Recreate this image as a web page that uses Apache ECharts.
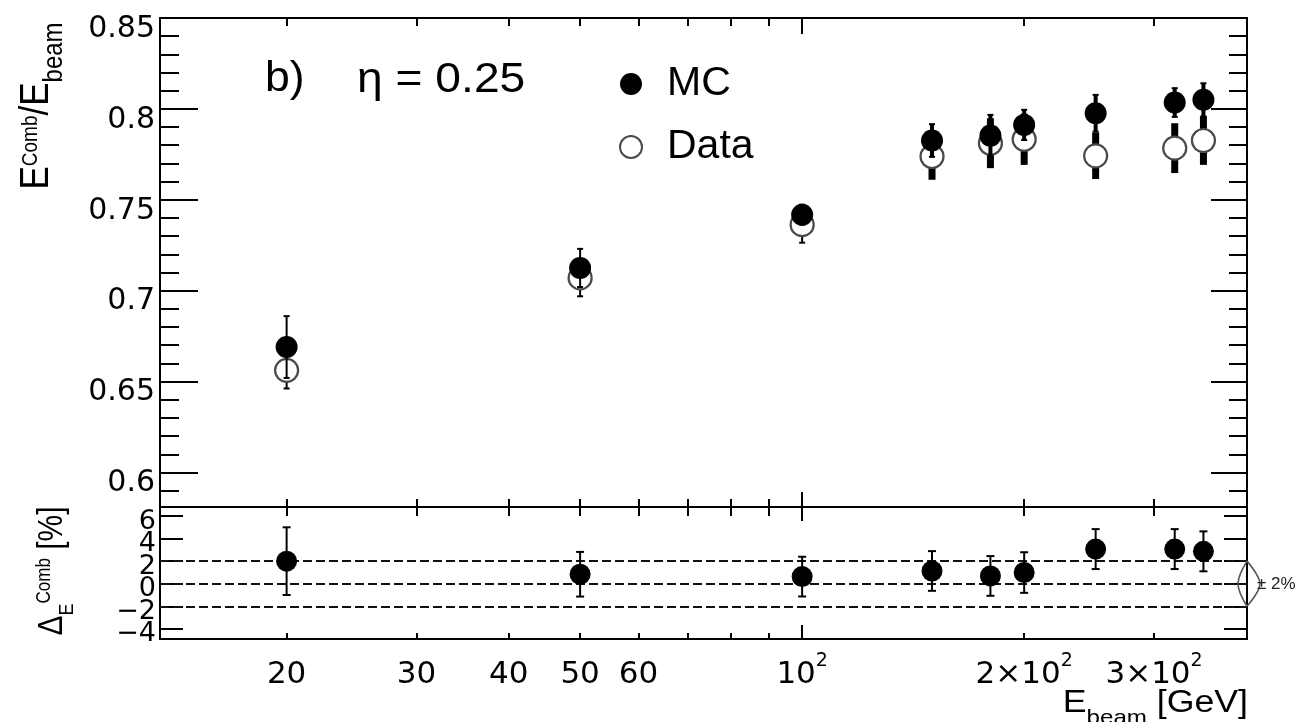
<!DOCTYPE html>
<html>
<head>
<meta charset="utf-8">
<script src="https://cdn.jsdelivr.net/npm/echarts@6/dist/echarts.min.js"></script>
<style>html,body{margin:0;padding:0;background:#fff}#c{width:1304px;height:722px}</style>
</head>
<body>
<div id="c"></div>
<script>
// ---------------- data ----------------
const energies      = [20, 50, 100, 150, 180, 200, 250, 320, 350];
const mcResponse    = [0.669, 0.7125, 0.7418, 0.7826, 0.7853, 0.7912, 0.7976, 0.8035, 0.805];
const mcError       = [0.017, 0.0105, 0.0055, 0.009, 0.0114, 0.0083, 0.0101, 0.0079, 0.0091];
const dataResponse  = [0.6562, 0.707, 0.7363, 0.7738, 0.7811, 0.7833, 0.7742, 0.7784, 0.7826];
const dataError     = [0.0100, 0.0101, 0.0099, 0.0128, 0.0137, 0.0141, 0.0128, 0.0137, 0.0134];
const deltaPercent  = [2.0, 0.84, 0.63, 1.13, 0.69, 0.99, 3.07, 3.07, 2.87];
const deltaError    = [3.0, 1.98, 1.76, 1.76, 1.76, 1.8, 1.77, 1.77, 1.77];
const bandLimits    = [-2, 0, 2];
const bandLabel     = '± 2%';

const xTickValues   = [20, 30, 40, 50, 60, 100, 200, 300];
const xTickLabels   = ['20', '30', '40', '50', '60', '10{sup|2}', '2×10{sup|2}', '3×10{sup|2}'];
const xMinorTicks   = [20, 30, 40, 50, 60, 70, 80, 90, 200, 300];
const xMajorTicks   = [100];

const yTopMajor     = [0.6, 0.65, 0.7, 0.75, 0.8, 0.85];
const yTopLabels    = ['0.6', '0.65', '0.7', '0.75', '0.8', '0.85'];
const yTopMinor     = [0.59, 0.61, 0.62, 0.63, 0.64, 0.66, 0.67, 0.68, 0.69, 0.71, 0.72, 0.73, 0.74,
                       0.76, 0.77, 0.78, 0.79, 0.81, 0.82, 0.83, 0.84];
const yBotTicks     = [-4, -2, 0, 2, 4, 6];
const yBotLabels    = ['−4', '−2', '0', '2', '4', '6'];

const X_MIN = 13.47, X_MAX = 401;
const YT_MIN = 0.581, YT_MAX = 0.85;
const YB_MIN = -4.9, YB_MAX = 6.8;
const HEAVY_FROM = 150;

// ---------------- style helpers ----------------
const FA = '"Liberation Sans", Arial, Helvetica, sans-serif';
const FD = '"DejaVu Sans", "Liberation Sans", sans-serif';
const INK = '#000';

function lookup(vals, labels, wrap) {
  return function (v) {
    for (let i = 0; i < vals.length; i++) {
      if (Math.abs(vals[i] - v) < 1e-6 * Math.max(1, Math.abs(v))) {
        return wrap ? '{v|' + labels[i] + '}' : labels[i];
      }
    }
    return '';
  };
}

function xAx(grid, pos, ticks, len, withLabels) {
  return {
    type: 'log', logBase: 10, gridIndex: grid, position: pos, min: X_MIN, max: X_MAX,
    axisLine: { show: true, onZero: false, lineStyle: { color: '#000', width: 2 } },
    axisTick: { show: true, inside: true, length: len, customValues: ticks, lineStyle: { color: '#000', width: 2 } },
    axisLabel: withLabels ? {
      show: true, customValues: xTickValues, formatter: lookup(xTickValues, xTickLabels),
      showMinLabel: true, showMaxLabel: true,
      fontFamily: FD, fontSize: 31, color: INK, margin: 13, lineHeight: 46,
      rich: { sup: { fontFamily: FD, fontSize: 19, color: INK, verticalAlign: 'top' } }
    } : { show: false },
    splitLine: { show: false }, minorTick: { show: false }, minorSplitLine: { show: false }
  };
}

function yAx(grid, pos, ticks, len, min, max, labelCfg) {
  return {
    type: 'value', gridIndex: grid, position: pos, min: min, max: max,
    axisLine: { show: true, onZero: false, lineStyle: { color: '#000', width: 2 } },
    axisTick: { show: true, inside: true, length: len, customValues: ticks, lineStyle: { color: '#000', width: 2 } },
    axisLabel: labelCfg || { show: false },
    splitLine: { show: false }, minorTick: { show: false }, minorSplitLine: { show: false }
  };
}

function yLabelCfg(values, size, margin, shift) {
  return {
    show: true, customValues: values, formatter: lookup(yBotTicks.concat(yTopMajor), yBotLabels.concat(yTopLabels), true),
    showMinLabel: true, showMaxLabel: true, hideOverlap: false,
    fontFamily: FD, fontSize: size, color: INK, margin: margin,
    rich: { v: { fontFamily: FD, fontSize: size, color: INK, padding: [shift, 0, 0, 0] } }
  };
}

function seg(x1, y1, x2, y2, w, c) {
  return { type: 'line', shape: { x1: x1, y1: y1, x2: x2, y2: y2 }, style: { stroke: c || '#000', lineWidth: w, lineCap: 'butt' } };
}

const DATA_SYM = 23, MC_SYM = 22, DELTA_SYM = 21;

function dataErrItem(params, api) {
  const e = api.value(0);
  const c = api.coord([e, api.value(1)]);
  const lo = api.coord([e, api.value(2)]);
  const hi = api.coord([e, api.value(3)]);
  const heavy = e >= HEAVY_FROM;
  const w = heavy ? 7 : 2;
  const r = DATA_SYM / 2;
  const ch = [];
  if (hi[1] < c[1] - r) ch.push(seg(c[0], c[1] - r, c[0], hi[1], w));
  if (lo[1] > c[1] + r) ch.push(seg(c[0], c[1] + r, c[0], lo[1], w));
  if (!heavy) {
    ch.push(seg(c[0] - 3, hi[1], c[0] + 3, hi[1], 2));
    ch.push(seg(c[0] - 3, lo[1], c[0] + 3, lo[1], 2));
  }
  return { type: 'group', children: ch };
}

function mcErrItem(params, api) {
  const e = api.value(0);
  const lo = api.coord([e, api.value(2)]);
  const hi = api.coord([e, api.value(3)]);
  const w = e >= HEAVY_FROM ? 4 : 2;
  return { type: 'group', children: [
    seg(hi[0], hi[1], lo[0], lo[1], w),
    seg(hi[0] - 3, hi[1], hi[0] + 3, hi[1], 2),
    seg(lo[0] - 3, lo[1], lo[0] + 3, lo[1], 2)
  ] };
}

function deltaErrItem(params, api) {
  const e = api.value(0);
  const lo = api.coord([e, api.value(2)]);
  const hi = api.coord([e, api.value(3)]);
  return { type: 'group', children: [
    seg(hi[0], hi[1], lo[0], lo[1], 2),
    seg(hi[0] - 4, hi[1], hi[0] + 4, hi[1], 2),
    seg(lo[0] - 4, lo[1], lo[0] + 4, lo[1], 2)
  ] };
}

function bandItem(params, api) {
  const cs = params.coordSys;
  const xr = cs.x + cs.width;
  const yLo = api.coord([api.value(0), api.value(1)])[1];
  const yHi = api.coord([api.value(0), api.value(2)])[1];
  const yMid = (yLo + yHi) / 2;
  const st = { stroke: '#555', lineWidth: 1.6, fill: null };
  return { type: 'group', children: [
    { type: 'polyline', shape: { points: [[xr, yHi], [xr - 9, yMid], [xr, yLo]], smooth: 0.35 }, style: st },
    { type: 'polyline', shape: { points: [[xr, yHi], [xr + 13, yMid], [xr, yLo]], smooth: 0.35 }, style: st },
    { type: 'text', style: { text: bandLabel, x: xr + 10, y: yMid + 1, verticalAlign: 'middle', align: 'left',
        fontFamily: FA, fontSize: 17, fill: '#222' } }
  ] };
}

const option = {
  animation: false,
  backgroundColor: '#fff',
  textStyle: { fontFamily: FA },
  grid: [
    { left: 160, top: 18, width: 1087, height: 489 },
    { left: 160, top: 507, width: 1087, height: 132 }
  ],
  legend: {
    orient: 'vertical', left: 614, top: 58, itemWidth: 22, itemHeight: 22, itemGap: 21,
    selectedMode: false,
    data: ['MC', 'Data'],
    textStyle: { fontFamily: FA, fontSize: 41, color: INK, lineHeight: 42, padding: [0, 0, 0, 20] }
  },
  xAxis: [
    xAx(0, 'bottom', xMinorTicks, 8),
    xAx(0, 'bottom', xMajorTicks, 15),
    xAx(0, 'top', xMinorTicks, 8),
    xAx(0, 'top', xMajorTicks, 16),
    xAx(1, 'bottom', xMinorTicks, 6, true),
    xAx(1, 'bottom', xMajorTicks, 14),
    xAx(1, 'top', xMinorTicks, 9),
    xAx(1, 'top', xMajorTicks, 14)
  ],
  yAxis: [
    yAx(0, 'left', yTopMajor, 38, YT_MIN, YT_MAX, yLabelCfg(yTopMajor, 30, 5, 22)),
    yAx(0, 'left', yTopMinor, 19, YT_MIN, YT_MAX),
    yAx(0, 'right', yTopMajor, 36, YT_MIN, YT_MAX),
    yAx(0, 'right', yTopMinor, 18, YT_MIN, YT_MAX),
    yAx(1, 'left', yBotTicks, 23, YB_MIN, YB_MAX, yLabelCfg([-4, 0, 4], 27, 4, 11)),
    yAx(1, 'right', yBotTicks, 23, YB_MIN, YB_MAX),
    yAx(1, 'left', yBotTicks, 23, YB_MIN, YB_MAX, yLabelCfg([-2, 2, 6], 27, 4, 11))
  ],
  series: [
    {
      type: 'custom', name: 'Data errors', xAxisIndex: 0, yAxisIndex: 0, z: 2, silent: true,
      renderItem: dataErrItem, encode: { x: 0, y: 1 },
      data: energies.map((e, i) => [e, dataResponse[i], dataResponse[i] - dataError[i], dataResponse[i] + dataError[i]])
    },
    {
      type: 'scatter', name: 'Data', xAxisIndex: 0, yAxisIndex: 0, z: 3, silent: true,
      symbol: 'circle', symbolSize: DATA_SYM,
      itemStyle: { color: 'rgba(0,0,0,0)', borderColor: '#4a4a4a', borderWidth: 2.2, opacity: 1 },
      emphasis: { disabled: true },
      data: energies.map((e, i) => [e, dataResponse[i]])
    },
    {
      type: 'custom', name: 'MC errors', xAxisIndex: 0, yAxisIndex: 0, z: 4, silent: true,
      renderItem: mcErrItem, encode: { x: 0, y: 1 },
      data: energies.map((e, i) => [e, mcResponse[i], mcResponse[i] - mcError[i], mcResponse[i] + mcError[i]])
    },
    {
      type: 'scatter', name: 'MC', xAxisIndex: 0, yAxisIndex: 0, z: 5, silent: true,
      symbol: 'circle', symbolSize: MC_SYM, itemStyle: { color: '#000', opacity: 1 },
      emphasis: { disabled: true },
      data: energies.map((e, i) => [e, mcResponse[i]])
    },
    {
      type: 'custom', name: 'Delta errors', xAxisIndex: 4, yAxisIndex: 4, z: 3, silent: true,
      renderItem: deltaErrItem, encode: { x: 0, y: 1 },
      data: energies.map((e, i) => [e, deltaPercent[i], deltaPercent[i] - deltaError[i], deltaPercent[i] + deltaError[i]]),
      markLine: {
        silent: true, z: 1, symbol: ['none', 'none'], label: { show: false },
        lineStyle: { type: [9, 4], color: '#111', width: 2, opacity: 1 },
        emphasis: { disabled: true },
        data: bandLimits.map(v => ({ yAxis: v }))
      }
    },
    {
      type: 'scatter', name: 'Delta', xAxisIndex: 4, yAxisIndex: 4, z: 4, silent: true,
      symbol: 'circle', symbolSize: DELTA_SYM, itemStyle: { color: '#000', opacity: 1 },
      emphasis: { disabled: true },
      data: energies.map((e, i) => [e, deltaPercent[i]])
    },
    {
      type: 'custom', name: 'Band', xAxisIndex: 4, yAxisIndex: 4, z: 4, silent: true, clip: false,
      renderItem: bandItem,
      data: [[X_MAX, bandLimits[0], bandLimits[2]]]
    }
  ],
  graphic: [
    { type: 'text', x: 265, y: 79, scaleX: 1.06, silent: true,
      style: { text: 'b)', fontFamily: FA, fontSize: 42, fill: INK, verticalAlign: 'middle', align: 'left' } },
    { type: 'text', x: 357, y: 80, scaleX: 1.1, silent: true,
      style: { text: 'η = 0.25', fontFamily: FA, fontSize: 42, fill: INK, verticalAlign: 'middle', align: 'left' } },
    { type: 'text', x: 37, y: 106, rotation: Math.PI / 2, scaleY: 1.15, silent: true,
      style: { text: '{m|E}{sup|Comb}{m|/E}{sub|beam}', align: 'center', verticalAlign: 'middle', fill: INK,
        rich: {
          m: { fontFamily: FA, fontSize: 35, fill: INK },
          sup: { fontFamily: FA, fontSize: 19, fill: INK, verticalAlign: 'top', padding: [13, 0, 0, 0] },
          sub: { fontFamily: FA, fontSize: 24, fill: INK, verticalAlign: 'bottom', lineHeight: 55 }
        } } },
    { type: 'text', x: 52, y: 571, rotation: Math.PI / 2, scaleY: 1.15, silent: true,
      style: { text: '{m|Δ}{sub|E}{sup|Comb}{m| [%]}', align: 'center', verticalAlign: 'middle', fill: INK,
        rich: {
          m: { fontFamily: FA, fontSize: 30, fill: INK },
          sup: { fontFamily: FA, fontSize: 17, fill: INK, verticalAlign: 'top', padding: [7, 0, 0, 0] },
          sub: { fontFamily: FA, fontSize: 18, fill: INK, verticalAlign: 'bottom', lineHeight: 44 }
        } } },
    { type: 'text', x: 1248, y: 703, scaleX: 1.15, silent: true,
      style: { text: '{m|E}{sub|beam}{m| [GeV]}', align: 'right', verticalAlign: 'middle', fill: INK,
        rich: {
          m: { fontFamily: FA, fontSize: 31, fill: INK },
          sub: { fontFamily: FA, fontSize: 21, fill: INK, verticalAlign: 'bottom', lineHeight: 52 }
        } } }
  ]
};

const chart = echarts.init(document.getElementById('c'), null, { renderer: 'canvas', width: 1304, height: 722 });
chart.setOption(option);
</script>
</body>
</html>
